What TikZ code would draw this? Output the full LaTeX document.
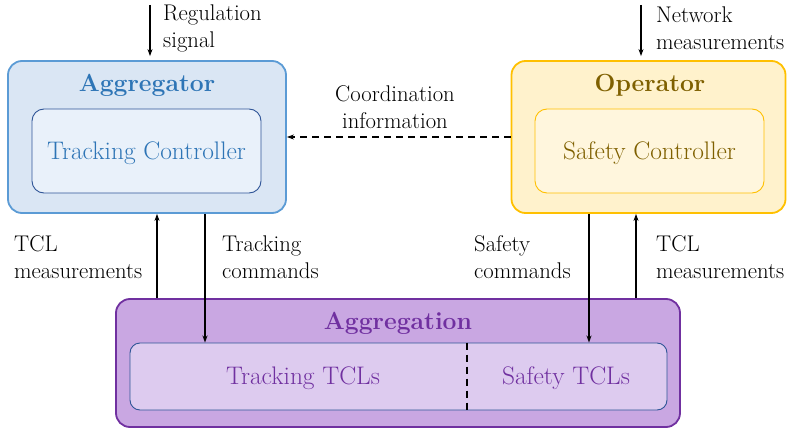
\documentclass[tikz,border=0pt]{standalone}
\usetikzlibrary{arrows.meta}
\definecolor{aggfill}{HTML}{DAE6F4}
\definecolor{aggline}{HTML}{5B9BD5}
\definecolor{agginfill}{HTML}{E9F1FA}
\definecolor{agginline}{HTML}{2F5597}
\definecolor{aggtext}{HTML}{2E75B6}
\definecolor{opfill}{HTML}{FFF2CC}
\definecolor{opline}{HTML}{FFC000}
\definecolor{opinfill}{HTML}{FFF6DD}
\definecolor{optext}{HTML}{7F6000}
\definecolor{gfill}{HTML}{C9A7E2}
\definecolor{gline}{HTML}{7030A0}
\definecolor{ginfill}{HTML}{DDCBEF}
\definecolor{gtext}{HTML}{7030A0}
\begin{document}
\begin{tikzpicture}[x=1pt,y=-1pt,
  outerbox/.style={draw, line width=1.8pt, rounded corners=14pt, inner sep=0pt},
  innerbox/.style={draw, line width=0.9pt, rounded corners=12pt, inner sep=0pt},
  titletext/.style={font=\fontsize{24.7}{30}\selectfont\bfseries, inner sep=0pt},
  intext/.style={font=\fontsize{25.4}{30}\selectfont, inner sep=0pt},
  lbl/.style={font=\fontsize{22.7}{27}\selectfont, align=left, anchor=west, inner sep=0pt},
  arr/.style={line width=1.3pt, -{Stealth[length=7pt,width=5pt]}},
  darr/.style={line width=1.3pt, dashed, dash pattern=on 7pt off 5pt, -{Stealth[length=7pt,width=5pt]}}
]
\useasboundingbox (0,0) rectangle (787,428);

% Aggregator
\node[outerbox, fill=aggfill, draw=aggline, minimum width=278pt, minimum height=152pt] (aggr) at (147,137) {};
\node[titletext, text=aggtext] (aggrt) at (147,85) {Aggregator};
\node[innerbox, fill=agginfill, draw=agginline, minimum width=229pt, minimum height=84pt] (trc) at (146.5,151) {};
\node[intext, text=aggtext] (trct) at (146.5,153) {Tracking Controller};

% Operator
\node[outerbox, fill=opfill, draw=opline, minimum width=274pt, minimum height=152pt] (oper) at (648.5,137) {};
\node[titletext, text=optext] (opert) at (650,85) {Operator};
\node[innerbox, fill=opinfill, draw=opline, minimum width=229pt, minimum height=84pt] (sfc) at (649.5,151) {};
\node[intext, text=optext] (sfct) at (649.5,153) {Safety Controller};

% Aggregation
\node[outerbox, fill=gfill, draw=gline, minimum width=564pt, minimum height=128pt] (aggn) at (398,363) {};
\node[titletext, text=gtext] (aggnt) at (398,323) {Aggregation};
\node[innerbox, fill=ginfill, draw=agginline, minimum width=537pt, minimum height=67pt, rounded corners=10pt] (tcls) at (398.5,376.5) {};
\node[intext, text=gtext] (trtcl) at (303,378) {Tracking TCLs};
\node[intext, text=gtext] (sftcl) at (566,378) {Safety TCLs};
\coordinate (sep) at (467,0);
\draw[line width=1.3pt, dash pattern=on 7pt off 5pt] (tcls.north -| sep) -- (tcls.south -| sep);

% inputs from top
\coordinate (regin) at (150,5);
\coordinate (netin) at (641,5);
\draw[arr, shorten >=4pt] (regin) -- (regin |- aggr.north);
\draw[arr, shorten >=4pt] (netin) -- (netin |- oper.north);
\node[lbl] (reglbl) at (163,28) {Regulation\\signal};
\node[lbl] (netlbl) at (656,28) {Network\\measurements};

% coordination
\draw[darr] (oper.west |- 0,137) -- (aggr.east |- 0,137);
\node[font=\fontsize{22.7}{27}\selectfont, align=center, inner sep=0pt] (coordlbl) at (395,107) {Coordination\\information};

% vertical links
\coordinate (x1) at (157,0);
\coordinate (x2) at (205,0);
\coordinate (x3) at (589,0);
\coordinate (x4) at (636,0);
\draw[arr] (aggn.north -| x1) -- (aggr.south -| x1);
\draw[arr] (aggr.south -| x2) -- (tcls.north -| x2);
\draw[arr] (oper.south -| x3) -- (tcls.north -| x3);
\draw[arr] (aggn.north -| x4) -- (oper.south -| x4);

\node[lbl] (tcl1) at (14,257) {TCL\\measurements};
\node[lbl] (trcmd) at (222,257) {Tracking\\commands};
\node[lbl] (sfcmd) at (474,257) {Safety\\commands};
\node[lbl] (tcl2) at (656,257) {TCL\\measurements};
\end{tikzpicture}
\end{document}
